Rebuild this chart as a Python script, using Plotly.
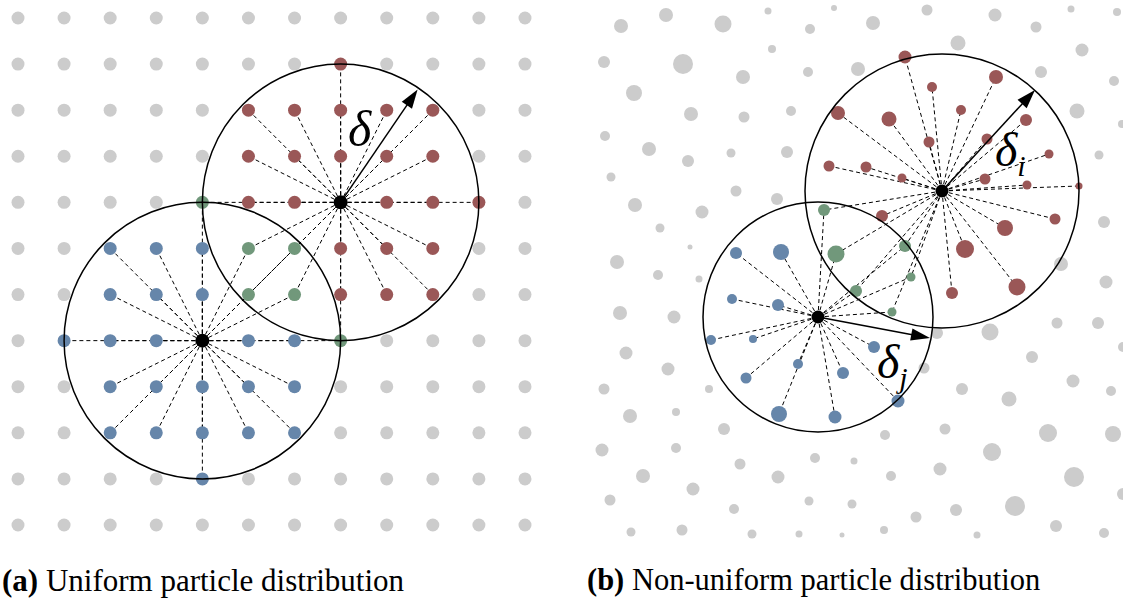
import plotly.graph_objects as go

W, H = 1123, 601

# ---------------- Panel (a): uniform particle distribution ----------------
grid_cols = [0, 1, 2, 3, 4, 5, 6, 7, 8, 9, 10, 11]
grid_rows = [0, 1, 2, 3, 4, 5, 6, 7, 8, 9, 10, 11]
a_center_blue = (4, 7)
a_center_red = (7, 4)
a_radius = 3
a_arrow_tip = (8.67, 1.55)
a_delta_pos = (7.42, 2.40)

# ---------------- Panel (b): non-uniform particle distribution ----------------
b_center_red = (942, 191)
b_radius_red = 137
b_center_blue = (818, 317)
b_radius_blue = 115
b_arrow_tip_i = (1035, 90)
b_arrow_tip_j = (930, 338)

gray_x = [621, 666, 723, 768, 604, 683, 772, 743, 634, 691, 744, 605, 649, 731, 688, 611,
          834, 927, 810, 873, 808, 858, 791, 787,
          995, 1071, 1117, 1036, 958, 1082, 1041, 1114, 1077, 1122, 1099,
          736, 635, 702, 660, 690, 617, 658, 699, 620, 674, 626,
          777, 937,
          1104, 1061, 1106, 1057, 1098, 990, 1032, 1123,
          668, 604, 709, 630, 676, 724, 602, 676, 740, 643, 693, 610, 734, 631, 682, 752,
          924, 885, 945, 815, 854, 778, 891, 940, 809, 852, 916, 799, 842, 884,
          1073, 962, 1009, 1111, 1048, 1113, 992, 1074, 1123, 956, 1015, 1056, 977, 1104]
gray_y = [26, 15, 24, 11, 62, 64, 49, 77, 93, 114, 117, 136, 149, 153, 161, 177,
          8, 10, 29, 23, 72, 69, 111, 152,
          15, 9, 12, 27, 43, 50, 72, 81, 111, 124, 155,
          191, 205, 212, 228, 247, 262, 275, 279, 313, 317, 353,
          199, 333,
          222, 264, 282, 323, 323, 332, 357, 347,
          369, 389, 389, 416, 412, 429, 450, 448, 464, 476, 489, 500, 509, 532, 530, 534,
          368, 435, 429, 458, 461, 477, 476, 469, 501, 504, 517, 534, 535, 530,
          381, 389, 399, 391, 433, 434, 452, 477, 494, 510, 506, 526, 535, 533]
gray_r = [7, 7, 8.5, 3.5, 6, 10, 4, 7, 8, 7, 5.5, 5, 7, 4.5, 6, 4.5,
          3, 5.5, 5, 7, 5, 7, 5, 6,
          6.5, 3.5, 4, 5.5, 7.5, 6.5, 6, 5, 7.5, 4, 4.5,
          5.5, 7, 6.5, 4.5, 2.5, 7, 5, 3.5, 7, 6.5, 6.5,
          6, 6,
          6, 7, 6.5, 5.5, 6, 8.5, 6, 5,
          6.5, 5.5, 4, 7, 4, 6, 6.5, 5, 5.5, 7, 6.5, 5.5, 5, 4.5, 5.5, 4.5,
          5.5, 5, 5.5, 5, 3.5, 6.5, 5, 6.5, 4.5, 4.5, 5.5, 3.5, 2.5, 4,
          6.5, 6, 7.5, 5, 9, 8, 9, 10, 6, 6, 10, 6, 3.5, 5]

red_x = [905, 932, 838, 889, 929, 829, 866, 902, 996, 961, 1026, 987, 1049, 985, 1027, 1079,
         1055, 1005, 965, 1017, 952, 882]
red_y = [57, 87, 113, 119, 142, 166, 167, 178, 77, 110, 120, 139, 154, 179, 185, 186,
         219, 228, 249, 287, 293, 216]
red_r = [6.5, 5, 7, 7.5, 5.5, 5.5, 5.5, 4.5, 7, 5, 6, 5.5, 4.5, 5.5, 4.5, 3.5,
         5.5, 8, 9, 8.5, 6, 6]

blue_x = [736, 732, 711, 753, 781, 778, 874, 798, 746, 843, 779, 835, 898]
blue_y = [253, 299, 340, 339, 252, 305, 347, 364, 378, 373, 414, 417, 401]
blue_r = [6, 5, 5, 4, 8, 6, 6, 5, 5.5, 6, 8, 6.5, 6.5]

green_x = [824, 836, 905, 911, 856, 892]
green_y = [210, 254, 246, 277, 291, 312]
green_r = [6, 8.5, 6, 4.5, 6, 4.5]

captions = ["<b>(a)</b> Uniform particle distribution",
            "<b>(b)</b> Non-uniform particle distribution"]

# ---------------- colours / styles ----------------
C_GRAY = "#cccccc"
C_RED = "#9a5757"
C_BLUE = "#6686aa"
C_GREEN = "#71987b"
DASH = "4px,3px"

fig = go.Figure()


def dashed_lines(center, xs, ys, xa, ya):
    lx, ly = [], []
    for x, y in zip(xs, ys):
        lx += [center[0], x, None]
        ly += [center[1], y, None]
    fig.add_trace(go.Scatter(x=lx, y=ly, mode="lines", xaxis=xa, yaxis=ya,
                             line=dict(color="black", width=1, dash=DASH),
                             hoverinfo="skip"))


def dots(xs, ys, sizes, color, xa, ya):
    fig.add_trace(go.Scatter(x=xs, y=ys, mode="markers", xaxis=xa, yaxis=ya,
                             marker=dict(size=sizes, color=color, opacity=1,
                                         line=dict(width=0)),
                             hoverinfo="skip"))


def arrow(center, tip, xa, ya):
    fig.add_trace(go.Scatter(x=[center[0], tip[0]], y=[center[1], tip[1]],
                             mode="lines+markers", xaxis=xa, yaxis=ya,
                             line=dict(color="black", width=1.5),
                             marker=dict(symbol=["circle", "arrow"], size=[0, 20],
                                         angleref="previous", color="black", opacity=1,
                                         line=dict(width=0)),
                             hoverinfo="skip"))


# ---- panel (a) classification ----
ga_x, ga_y = [], []
ba_x, ba_y = [], []
ra_x, ra_y = [], []
na_x, na_y = [], []
for c in grid_cols:
    for r in grid_rows:
        if (c, r) in (a_center_blue, a_center_red):
            continue
        d1 = (c - a_center_blue[0]) ** 2 + (r - a_center_blue[1]) ** 2
        d2 = (c - a_center_red[0]) ** 2 + (r - a_center_red[1]) ** 2
        in1 = d1 <= a_radius ** 2
        in2 = d2 <= a_radius ** 2
        if in1 and in2:
            na_x.append(c); na_y.append(r)
        elif in1:
            ba_x.append(c); ba_y.append(r)
        elif in2:
            ra_x.append(c); ra_y.append(r)
        else:
            ga_x.append(c); ga_y.append(r)

dashed_lines(a_center_blue, ba_x + na_x, ba_y + na_y, "x", "y")
dashed_lines(a_center_red, ra_x + na_x, ra_y + na_y, "x", "y")
dots(ga_x, ga_y, 13, C_GRAY, "x", "y")
dots(ba_x, ba_y, 13, C_BLUE, "x", "y")
dots(ra_x, ra_y, 13, C_RED, "x", "y")
dots(na_x, na_y, 13, C_GREEN, "x", "y")
dots([a_center_blue[0], a_center_red[0]], [a_center_blue[1], a_center_red[1]], 14, "black", "x", "y")
arrow(a_center_red, a_arrow_tip, "x", "y")

# ---- panel (b) ----
dashed_lines(b_center_blue, blue_x + green_x, blue_y + green_y, "x2", "y2")
dashed_lines(b_center_red, red_x + green_x, red_y + green_y, "x2", "y2")
dots(gray_x, gray_y, [2 * v for v in gray_r], C_GRAY, "x2", "y2")
dots(blue_x, blue_y, [2 * v for v in blue_r], C_BLUE, "x2", "y2")
dots(red_x, red_y, [2 * v for v in red_r], C_RED, "x2", "y2")
dots(green_x, green_y, [2 * v for v in green_r], C_GREEN, "x2", "y2")
dots([b_center_blue[0], b_center_red[0]], [b_center_blue[1], b_center_red[1]], 13, "black", "x2", "y2")
arrow(b_center_red, b_arrow_tip_i, "x2", "y2")
arrow(b_center_blue, b_arrow_tip_j, "x2", "y2")

# circles
shapes = []
for (cx, cy) in (a_center_blue, a_center_red):
    shapes.append(dict(type="circle", xref="x", yref="y", layer="above",
                       x0=cx - a_radius, x1=cx + a_radius, y0=cy - a_radius, y1=cy + a_radius,
                       line=dict(color="black", width=1.5)))
for (cx, cy), rr in ((b_center_red, b_radius_red), (b_center_blue, b_radius_blue)):
    shapes.append(dict(type="circle", xref="x2", yref="y2", layer="above",
                       x0=cx - rr, x1=cx + rr, y0=cy - rr, y1=cy + rr,
                       line=dict(color="black", width=1.5)))

SERIF = "Liberation Serif, DejaVu Serif, serif"
SUB = "<sub><span style='font-size:30px'><i>%s</i></span></sub>"
annotations = [
    dict(text="<i>δ</i>", x=a_delta_pos[0], y=a_delta_pos[1], xref="x", yref="y",
         showarrow=False, font=dict(family=SERIF, size=50, color="black"),
         xanchor="center", yanchor="middle"),
    dict(text="<i>δ</i>" + SUB % "i", x=1010, y=152, xref="x2", yref="y2",
         showarrow=False, font=dict(family=SERIF, size=48, color="black"),
         xanchor="center", yanchor="middle"),
    dict(text="<i>δ</i>" + SUB % "j", x=892, y=364, xref="x2", yref="y2",
         showarrow=False, font=dict(family=SERIF, size=48, color="black"),
         xanchor="center", yanchor="middle"),
    dict(text=captions[0], x=0, y=1 - 580 / H, xref="paper", yref="paper",
         showarrow=False, font=dict(family=SERIF, size=31, color="black"),
         xanchor="left", yanchor="middle"),
    dict(text=captions[1], x=585 / W, y=1 - 580 / H, xref="paper", yref="paper",
         showarrow=False, font=dict(family=SERIF, size=30.5, color="black"),
         xanchor="left", yanchor="middle"),
]

s = 46.09
x0a = -18 / s
y0a = -18 / s
split = 543
fig.update_layout(
    width=W, height=H, margin=dict(l=0, r=0, t=0, b=0),
    paper_bgcolor="white", plot_bgcolor="white", showlegend=False,
    xaxis=dict(domain=[0, split / W], range=[x0a, x0a + split / s], visible=False),
    yaxis=dict(domain=[0, 1], range=[y0a + H / s, y0a], visible=False),
    xaxis2=dict(domain=[split / W, 1], range=[split, W], visible=False, anchor="y2"),
    yaxis2=dict(domain=[0, 1], range=[H, 0], visible=False, anchor="x2"),
    shapes=shapes, annotations=annotations,
)

fig.write_html("out.html", config={"displayModeBar": False},
               post_script="document.body.style.margin='0';document.body.style.overflow='hidden';")
